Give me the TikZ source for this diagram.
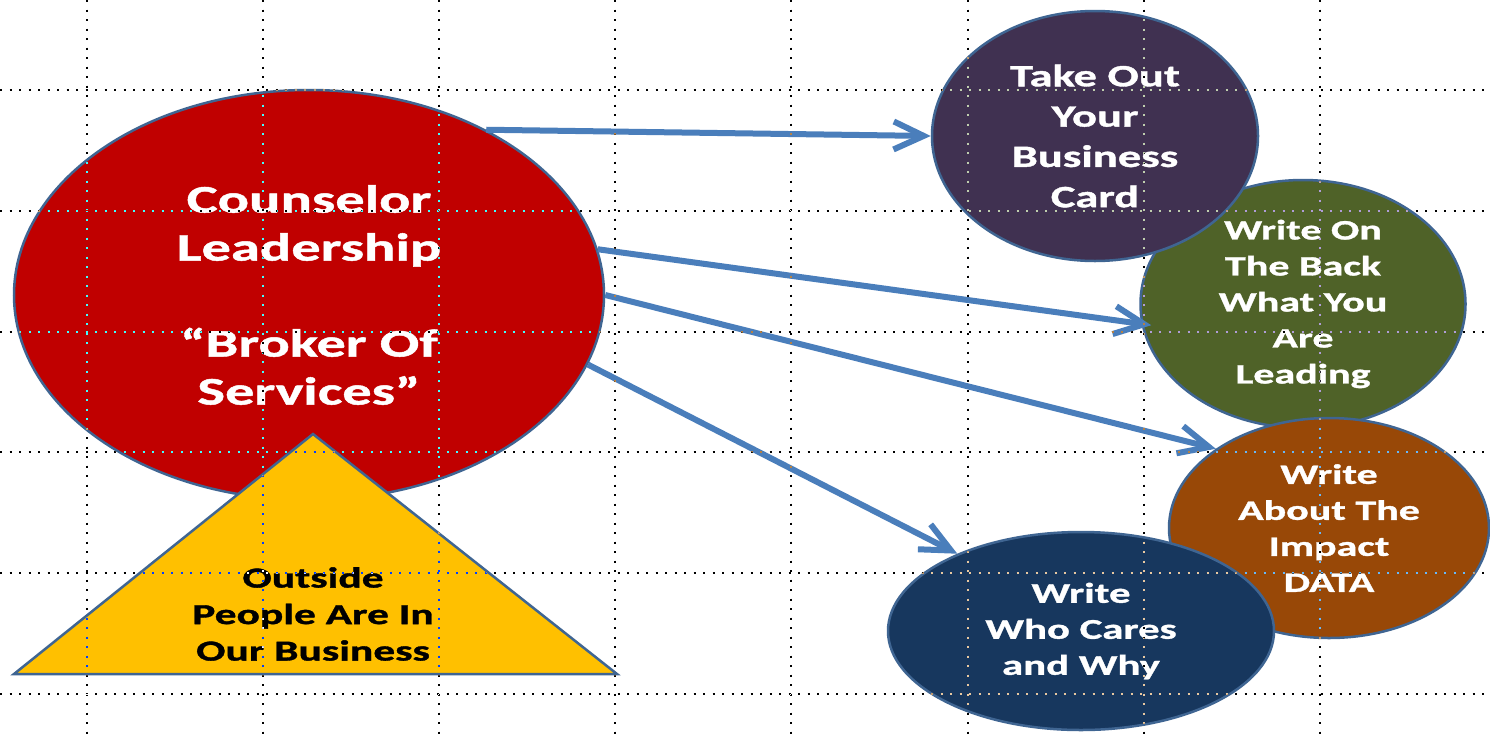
\documentclass[tikz,border=0pt]{standalone}
\usepackage{fontspec}
\newfontfamily\widefont[FakeStretch=1.5, BoldFeatures={FakeBold=1.2}]{Carlito}
\usetikzlibrary{shapes.geometric,arrows.meta}

\definecolor{leadred}{HTML}{C00000}
\definecolor{outyellow}{HTML}{FFC000}
\definecolor{cardpurple}{HTML}{403151}
\definecolor{backgreen}{HTML}{4F6228}
\definecolor{impactbrown}{HTML}{984807}
\definecolor{caresnavy}{HTML}{17375E}
\definecolor{rim}{HTML}{3F6592}
\definecolor{linkblue}{HTML}{4A7EBB}

\tikzset{
  bubble/.style={ellipse, draw=rim, line width=2.5pt, inner sep=0pt, align=center, text=white},
  link/.style={draw=linkblue, line width=6pt, -{Straight Barb[length=30pt,width=28pt]}},
  gridline/.style={white, line width=2pt, dash pattern=on 2pt off 7.5pt},
}

\begin{document}
\begin{tikzpicture}[x=1pt,y=-1pt]
\useasboundingbox[fill=white] (0,0) rectangle (1490,734);

%big circle and triangle
\node[bubble, fill=leadred, minimum width=590pt, minimum height=410pt,
  font=\widefont\bfseries\fontsize{39}{48}\selectfont] (lead) at (309,295)
  {Counselor\\Leadership\\[48pt]“Broker Of\\Services”};
\draw[draw=rim, fill=outyellow, line width=2.5pt] (313,434) -- (617,674) -- (14,674) -- cycle;
\node[align=center, font=\widefont\bfseries\fontsize{29}{36.5}\selectfont] (outside) at (313,614)
  {Outside\\People Are In\\Our Business};

%right circles
\node[bubble, fill=backgreen, minimum width=325pt, minimum height=248pt,
  font=\widefont\bfseries\fontsize{28}{36}\selectfont] (back) at (1303,304)
  {Write On\\The Back\\What You\\Are\\Leading};
\node[bubble, fill=cardpurple, minimum width=326pt, minimum height=250pt,
  font=\widefont\bfseries\fontsize{31}{40.3}\selectfont] (card) at (1095,136)
  {Take Out\\Your\\Business\\Card};
\node[bubble, fill=impactbrown, minimum width=320pt, minimum height=220pt,
  font=\widefont\bfseries\fontsize{28}{36}\selectfont] (impact) at (1329,528)
  {Write\\About The\\Impact\\DATA};
\node[bubble, fill=caresnavy, minimum width=386pt, minimum height=198pt,
  font=\widefont\bfseries\fontsize{28.5}{36}\selectfont] (cares) at (1081,631)
  {Write\\Who Cares\\and Why};

%arrows
\draw[link] (lead.43) -- (card.west);
\draw[link, shorten >=-10pt] (lead.9) -- (back.187);
\draw[link] (lead.0) -- (impact.145);
\draw[link] (lead.-14) -- (cares.148);

%dotted grid on top
\begin{scope}[blend mode=difference]
\foreach \gx in {87,263.1,...,1320} \draw[gridline] (\gx,0) -- (\gx,734);
\foreach \gy in {90,210.8,...,700} \draw[gridline] (0,\gy) -- (1490,\gy);
\end{scope}
\end{tikzpicture}
\end{document}
